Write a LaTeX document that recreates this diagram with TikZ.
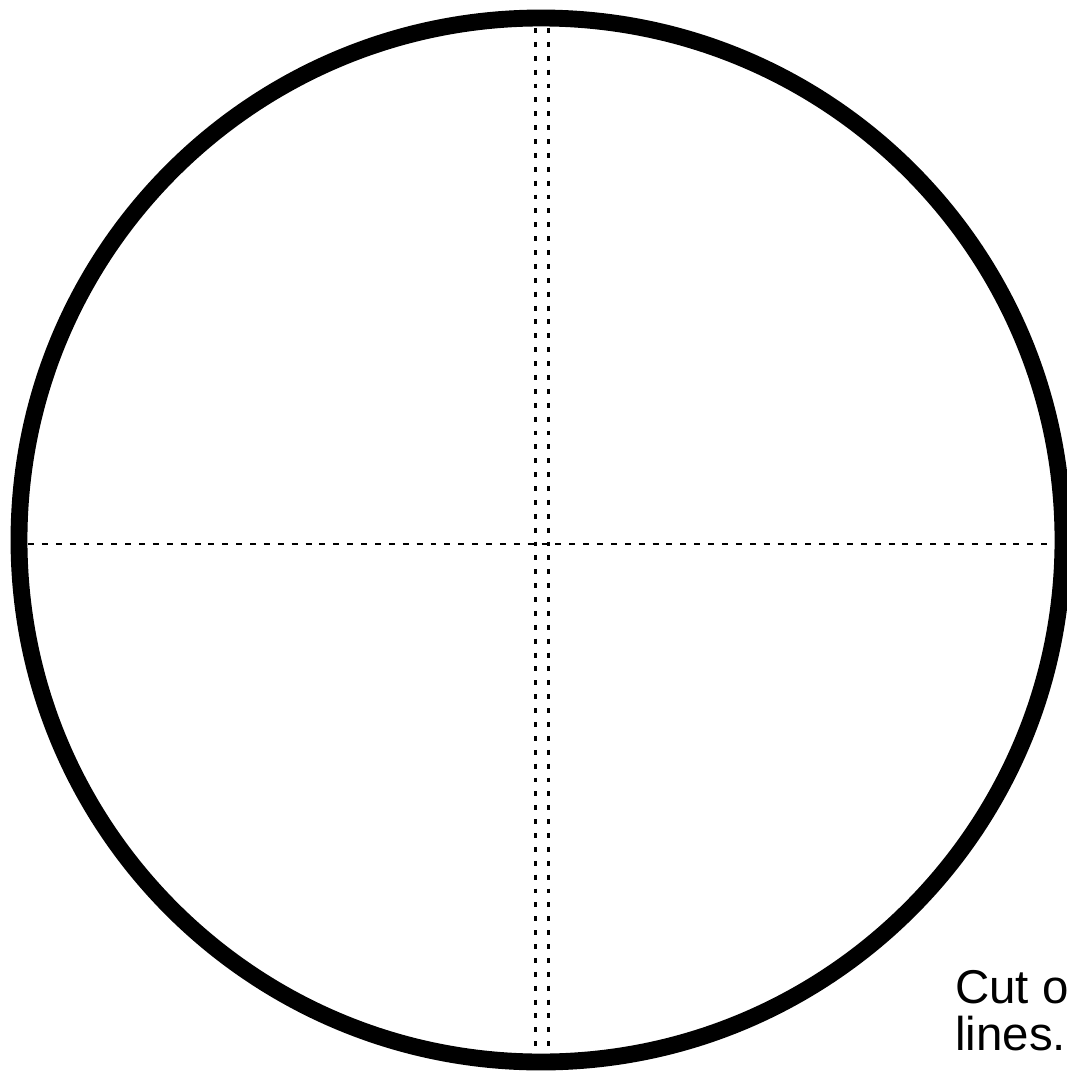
\documentclass[tikz,border=0pt]{standalone}
\usepackage{fontspec}
\setmainfont{Liberation Sans}
\usetikzlibrary{positioning}

\tikzset{
  rim/.style={line width=9.6pt},
  foldv/.style={line width=1.7pt,dash pattern=on 2.8pt off 5.1pt},
  foldh/.style={line width=1.1pt,dash pattern=on 3.4pt off 4.5pt},
  note/.style={inner sep=0pt,anchor=base west,font=\fontsize{27}{27}\selectfont}
}

\begin{document}
\begin{tikzpicture}[x=0.02cm,y=-0.02cm]
  \useasboundingbox (0,0) rectangle (1067,1074);
  \coordinate (c) at (541,540);
  \coordinate (vt1) at (535,28);  \coordinate (vb1) at (535,1052);
  \coordinate (vt2) at (548,28);  \coordinate (vb2) at (548,1052);
  \coordinate (hl) at (28,544);   \coordinate (hr) at (1055,544);

  \draw[rim] (c) circle[radius=522];

  \draw[foldv](vt1)--(vb1);
  \draw[foldv](vt2)--(vb2);
  \draw[foldh](hl)--(hr);

  \node[note] (cut) at (955,1003) {Cut o};
  \node[note] (lines) at (955,1050) {lines.};
\end{tikzpicture}
\end{document}
